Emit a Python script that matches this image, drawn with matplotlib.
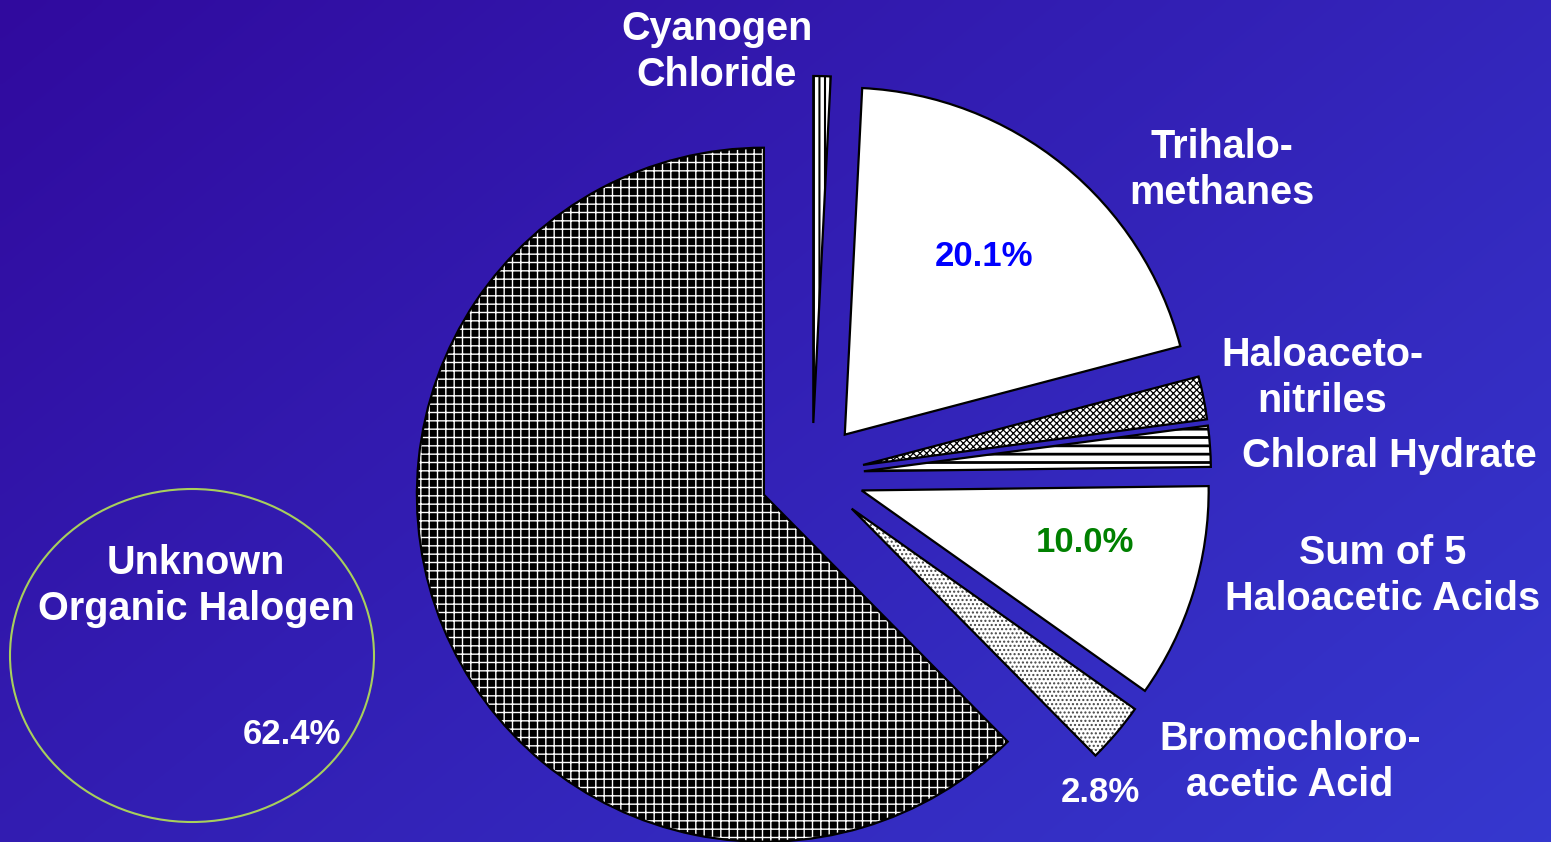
import numpy as np
import matplotlib
matplotlib.use("Agg")
import matplotlib.pyplot as plt
from matplotlib.patches import Ellipse

# ---- data ----
categories = ["Cyanogen Chloride", "Trihalomethanes", "Haloacetonitriles",
              "Chloral Hydrate", "Sum of 5 Haloacetic Acids",
              "Bromochloroacetic Acid", "Unknown Organic Halogen"]
values = [0.8, 20.1, 2.0, 1.9, 10.0, 2.8, 62.4]
label_texts = ["Cyanogen\nChloride", "Trihalo-\nmethanes", "Haloaceto-\nnitriles",
               "Chloral Hydrate", "Sum of 5\nHaloacetic Acids",
               "Bromochloro-\nacetic Acid", "Unknown\nOrganic Halogen"]
pct_shown = {"Trihalomethanes": 20.1, "Sum of 5 Haloacetic Acids": 10.0,
             "Bromochloroacetic Acid": 2.8, "Unknown Organic Halogen": 62.4}

# ---- style ----
W, H = 1551, 842
plt.rcParams['hatch.linewidth'] = 1.5
FONT = ['Liberation Sans', 'DejaVu Sans']

fig = plt.figure(figsize=(W / 100, H / 100), dpi=100)
ax = fig.add_axes([0, 0, 1, 1])

# background gradient
yy, xx = np.mgrid[0:1:200j, 0:1:300j]
t = np.clip(0.6 * xx + 0.4 * (1 - yy), 0, 1)  # yy=0 bottom (origin lower)
c0 = np.array([0.19, 0.04, 0.62])   # top-left
c1 = np.array([0.21, 0.22, 0.81])   # bottom-right
img = c0[None, None, :] * (1 - t[..., None]) + c1[None, None, :] * t[..., None]
ax.imshow(img, extent=(0, W, 0, H), origin='lower', aspect='auto', zorder=0,
          interpolation='bicubic')

center = (812, H - 475)
radius = 347
explode = [52] * len(values)

faces = ['white', 'white', 'white', 'white', 'white', 'white', 'black']
hatches = ['|||', '', 'xxxxx', '--', '', '....', '++']
hatch_cols = ['black', 'white', 'black', 'black', 'white', '#444444', 'white']
hatch_lw = [1.5, 1.0, 0.9, 2.0, 1.0, 1.0, 1.0]

wedges, _ = ax.pie(values, explode=explode, startangle=90, counterclock=False,
                   center=center, radius=radius, frame=True)
for w, fc, hc, hcol, hlw in zip(wedges, faces, hatches, hatch_cols, hatch_lw):
    w.set_facecolor(fc)
    w.set_hatch(hc)
    w.set_edgecolor(hcol)
    w.set_linewidth(0)
    w.set_zorder(2)
    if hasattr(w, 'set_hatch_linewidth'):
        w.set_hatch_linewidth(hlw)

outl, _ = ax.pie(values, explode=explode, startangle=90, counterclock=False,
                 center=center, radius=radius, frame=True,
                 wedgeprops=dict(fill=False, edgecolor='black', linewidth=1.6))
for w in outl:
    w.set_zorder(3)

ax.set_xlim(0, W)
ax.set_ylim(0, H)
ax.axis('off')

# ellipse around the unknown label
ax.add_patch(Ellipse((192, H - 655.5), 364, 333, fill=False,
                     edgecolor='#A8CF5C', linewidth=1.5, zorder=4))

# category labels
label_pos = [(717, 52), (1222, 170), (1322, 378), (1389, 456),
             (1383, 576), (1290, 762), (196, 586)]
for txt, (px, py) in zip(label_texts, label_pos):
    ax.text(px, H - py, txt, ha='center', va='center', color='white',
            fontsize=28.5, fontweight='bold', family=FONT, linespacing=1.3,
            zorder=5)

# percentage labels
pct_pos = {"Trihalomethanes": ((984, 256), '#0000FF'),
           "Sum of 5 Haloacetic Acids": ((1085, 543), '#008000'),
           "Bromochloroacetic Acid": ((1100, 793), 'white'),
           "Unknown Organic Halogen": ((292, 735), 'white')}
for name, v in pct_shown.items():
    (px, py), col = pct_pos[name]
    ax.text(px, H - py, f"{v:.1f}%", ha='center', va='center', color=col,
            fontsize=25, fontweight='bold', family=FONT, zorder=5)

fig.savefig('out.png', dpi=100)
